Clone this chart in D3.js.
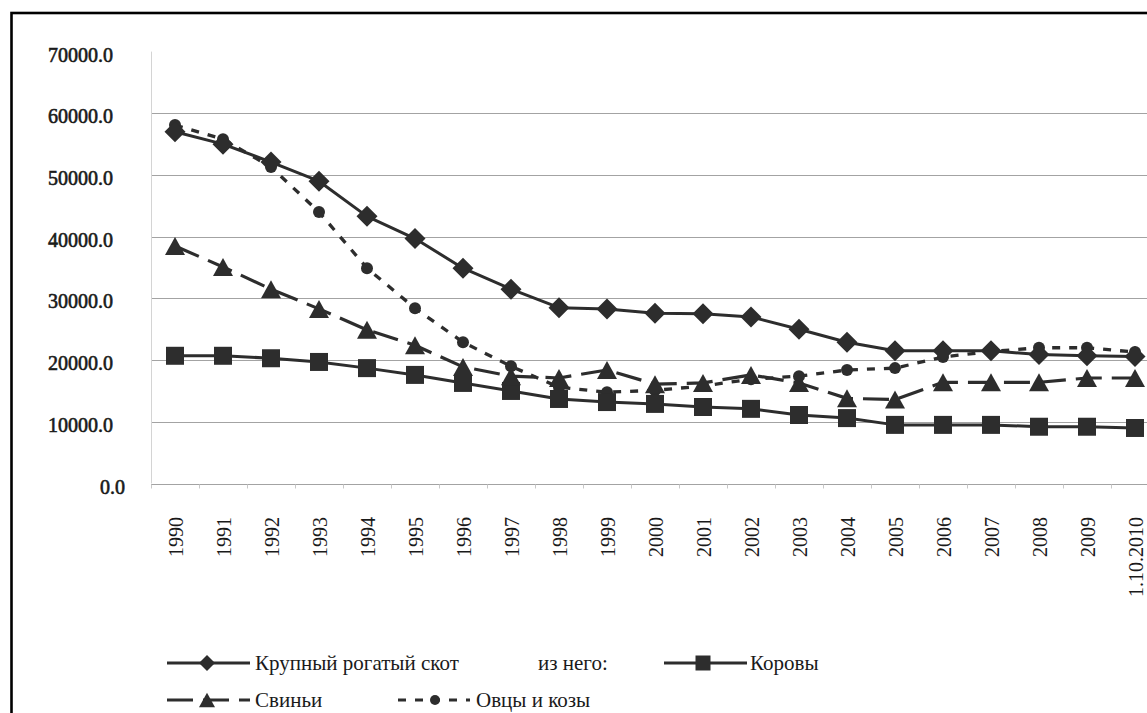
<!DOCTYPE html>
<html>
<head>
<meta charset="utf-8">
<script src="https://cdn.jsdelivr.net/npm/d3@7/dist/d3.min.js"></script>
<style>
  html, body { margin: 0; padding: 0; background: #fff; overflow: hidden; }
  svg { display: block; }
  text { font-family: 'Liberation Serif', 'Times New Roman', serif; }
</style>
</head>
<body>
<svg id="chart" width="1147" height="713"></svg>
<script>
// ---- Data ----
const categories = ["1990","1991","1992","1993","1994","1995","1996","1997","1998","1999",
  "2000","2001","2002","2003","2004","2005","2006","2007","2008","2009","1.10.2010"];
const cattle = [57000, 55000, 52100, 49000, 43300, 39700, 34900, 31500, 28500, 28300,
  27600, 27500, 27000, 25000, 22900, 21500, 21500, 21500, 20900, 20700, 20600];
const cows = [20700, 20700, 20300, 19700, 18700, 17600, 16300, 15000, 13700, 13200,
  12900, 12400, 12100, 11100, 10600, 9500, 9500, 9500, 9200, 9200, 9000];
const pigs = [38500, 35100, 31500, 28300, 24900, 22400, 18900, 17400, 17100, 18400,
  16100, 16300, 17600, 16300, 13800, 13600, 16400, 16400, 16400, 17100, 17100];
const sheep = [58100, 55800, 51300, 44000, 34900, 28400, 22900, 19000, 15600, 14800,
  15100, 15800, 16900, 17400, 18400, 18700, 20500, 21400, 22000, 22000, 21300];
const yTicks = [0, 10000, 20000, 30000, 40000, 50000, 60000, 70000];
const yTickLabels = ["0.0","10000.0","20000.0","30000.0","40000.0","50000.0","60000.0","70000.0"];
const seriesNames = ["Крупный рогатый скот", "Коровы", "Свиньи", "Овцы и козы"];
const legendNote = "из него:";

// ---- Setup ----
const svg = d3.select("#chart");
const ink = "#2d2d2d";
const plot = { left: 151, top: 51.6, bottom: 483.5, band: 48 };

const x = d3.scaleBand()
  .domain(categories)
  .range([plot.left, plot.left + plot.band * categories.length])
  .paddingInner(0).paddingOuter(0);
const y = d3.scaleLinear().domain([0, 70000]).range([plot.bottom, plot.top]);
const cx = c => x(c) + x.bandwidth() / 2;

// Outer frame (right/bottom edges fall outside the picture)
svg.append("rect")
  .attr("x", 11.5).attr("y", 13)
  .attr("width", 1300).attr("height", 900)
  .attr("fill", "none").attr("stroke", "#000").attr("stroke-width", 2.6);

// Gridlines
svg.append("g").selectAll("line")
  .data(yTicks.filter(t => t > 0 && t < 70000))
  .join("line")
  .attr("x1", plot.left).attr("x2", 1200)
  .attr("y1", d => Math.round(y(d)) + 0.5).attr("y2", d => Math.round(y(d)) + 0.5)
  .attr("stroke", "#a3a3a3").attr("stroke-width", 1);

// Y axis line
svg.append("line")
  .attr("x1", plot.left + 0.5).attr("x2", plot.left + 0.5)
  .attr("y1", y(70000)).attr("y2", y(0))
  .attr("stroke", "#d4d4d4").attr("stroke-width", 1);

// X axis with tick marks at band edges
const xAxis = d3.axisBottom(x).tickSize(0).tickFormat("");
const gx = svg.append("g").attr("transform", `translate(0,${Math.round(y(0)) + 0.5})`).call(xAxis);
gx.select(".domain").attr("stroke", "#a3a3a3").attr("d", `M${plot.left},0H1200`);
gx.selectAll(".tick").remove();
gx.selectAll("line.edge")
  .data(categories)
  .join("line")
  .attr("class", "edge")
  .attr("x1", d => x(d) + 0.5).attr("x2", d => x(d) + 0.5)
  .attr("y1", 0).attr("y2", 4)
  .attr("stroke", "#c8c8c8");

// X labels (rotated)
svg.append("g").selectAll("text")
  .data(categories)
  .join("text")
  .attr("transform", d => `translate(${cx(d) + 1},517) rotate(-90)`)
  .attr("text-anchor", "end")
  .attr("dy", "0.35em")
  .attr("font-size", 20)
  .attr("fill", "#1a1a1a")
  .text(d => d);

// Y labels
svg.append("g").selectAll("text")
  .data(yTicks)
  .join("text")
  .attr("x", d => d === 0 ? 125 : 113)
  .attr("y", d => y(d) + 3)
  .attr("dy", "0.35em")
  .attr("text-anchor", "end")
  .attr("font-size", 20)
  .attr("fill", "#1a1a1a")
  .attr("stroke", "#1a1a1a")
  .attr("stroke-width", 0.6)
  .text((d, i) => yTickLabels[i]);

// Marker shapes
const shapes = {
  diamond: r => `M0,${-r}L${r},0L0,${r}L${-r},0Z`,
  square: r => `M${-r},${-r}H${r}V${r}H${-r}Z`,
  triangle: r => `M0,${-r * 0.9}L${r},${r * 0.9}L${-r},${r * 0.9}Z`,
  circle: r => `M${r},0A${r},${r} 0 1,1 ${-r},0A${r},${r} 0 1,1 ${r},0Z`
};

const series = [
  { name: seriesNames[3], values: sheep, dash: "8,9", sw: 3.3, shape: "circle", r: 6, lr: 5 },
  { name: seriesNames[1], values: cows, dash: null, sw: 3, shape: "square", r: 9, lr: 7.5 },
  { name: seriesNames[2], values: pigs, dash: "26,10", sw: 3.2, shape: "triangle", r: 10, lr: 8 },
  { name: seriesNames[0], values: cattle, dash: null, sw: 3, shape: "diamond", r: 10.5, lr: 8 }
];

const line = d3.line().x((d, i) => cx(categories[i])).y(d => y(d));

series.forEach(s => {
  const g = svg.append("g");
  g.append("path")
    .attr("d", line(s.values))
    .attr("fill", "none")
    .attr("stroke", ink)
    .attr("stroke-width", s.sw)
    .attr("stroke-dasharray", s.dash)
    .attr("stroke-linejoin", "round");
  g.selectAll("path.m")
    .data(s.values)
    .join("path")
    .attr("class", "m")
    .attr("transform", (d, i) => `translate(${cx(categories[i])},${y(d)})`)
    .attr("d", shapes[s.shape](s.r))
    .attr("fill", ink);
});

// Legend
const legend = svg.append("g")
  .attr("font-size", 21)
  .attr("fill", "#1a1a1a");

const legendItems = [
  { s: series[3], x1: 167, x2: 250, mx: 207, tx: 255, y: 663 },
  { s: series[1], x1: 664, x2: 747, mx: 703, tx: 750, y: 663 },
  { s: series[2], x1: 167, x2: 250, mx: 207, tx: 255, y: 700 },
  { s: series[0], x1: 398, x2: 470, mx: 435, tx: 476, y: 700 }
];
legendItems.forEach(it => {
  legend.append("line")
    .attr("x1", it.x1).attr("x2", it.x2)
    .attr("y1", it.y).attr("y2", it.y)
    .attr("stroke", ink).attr("stroke-width", 3)
    .attr("stroke-dasharray", it.s.dash);
  legend.append("path")
    .attr("transform", `translate(${it.mx},${it.y})`)
    .attr("d", shapes[it.s.shape](it.s.lr))
    .attr("fill", ink);
  legend.append("text")
    .attr("x", it.tx).attr("y", it.y + 7)
    .text(it.s.name);
});
legend.append("text").attr("x", 538).attr("y", 670).text(legendNote);
</script>
</body>
</html>
